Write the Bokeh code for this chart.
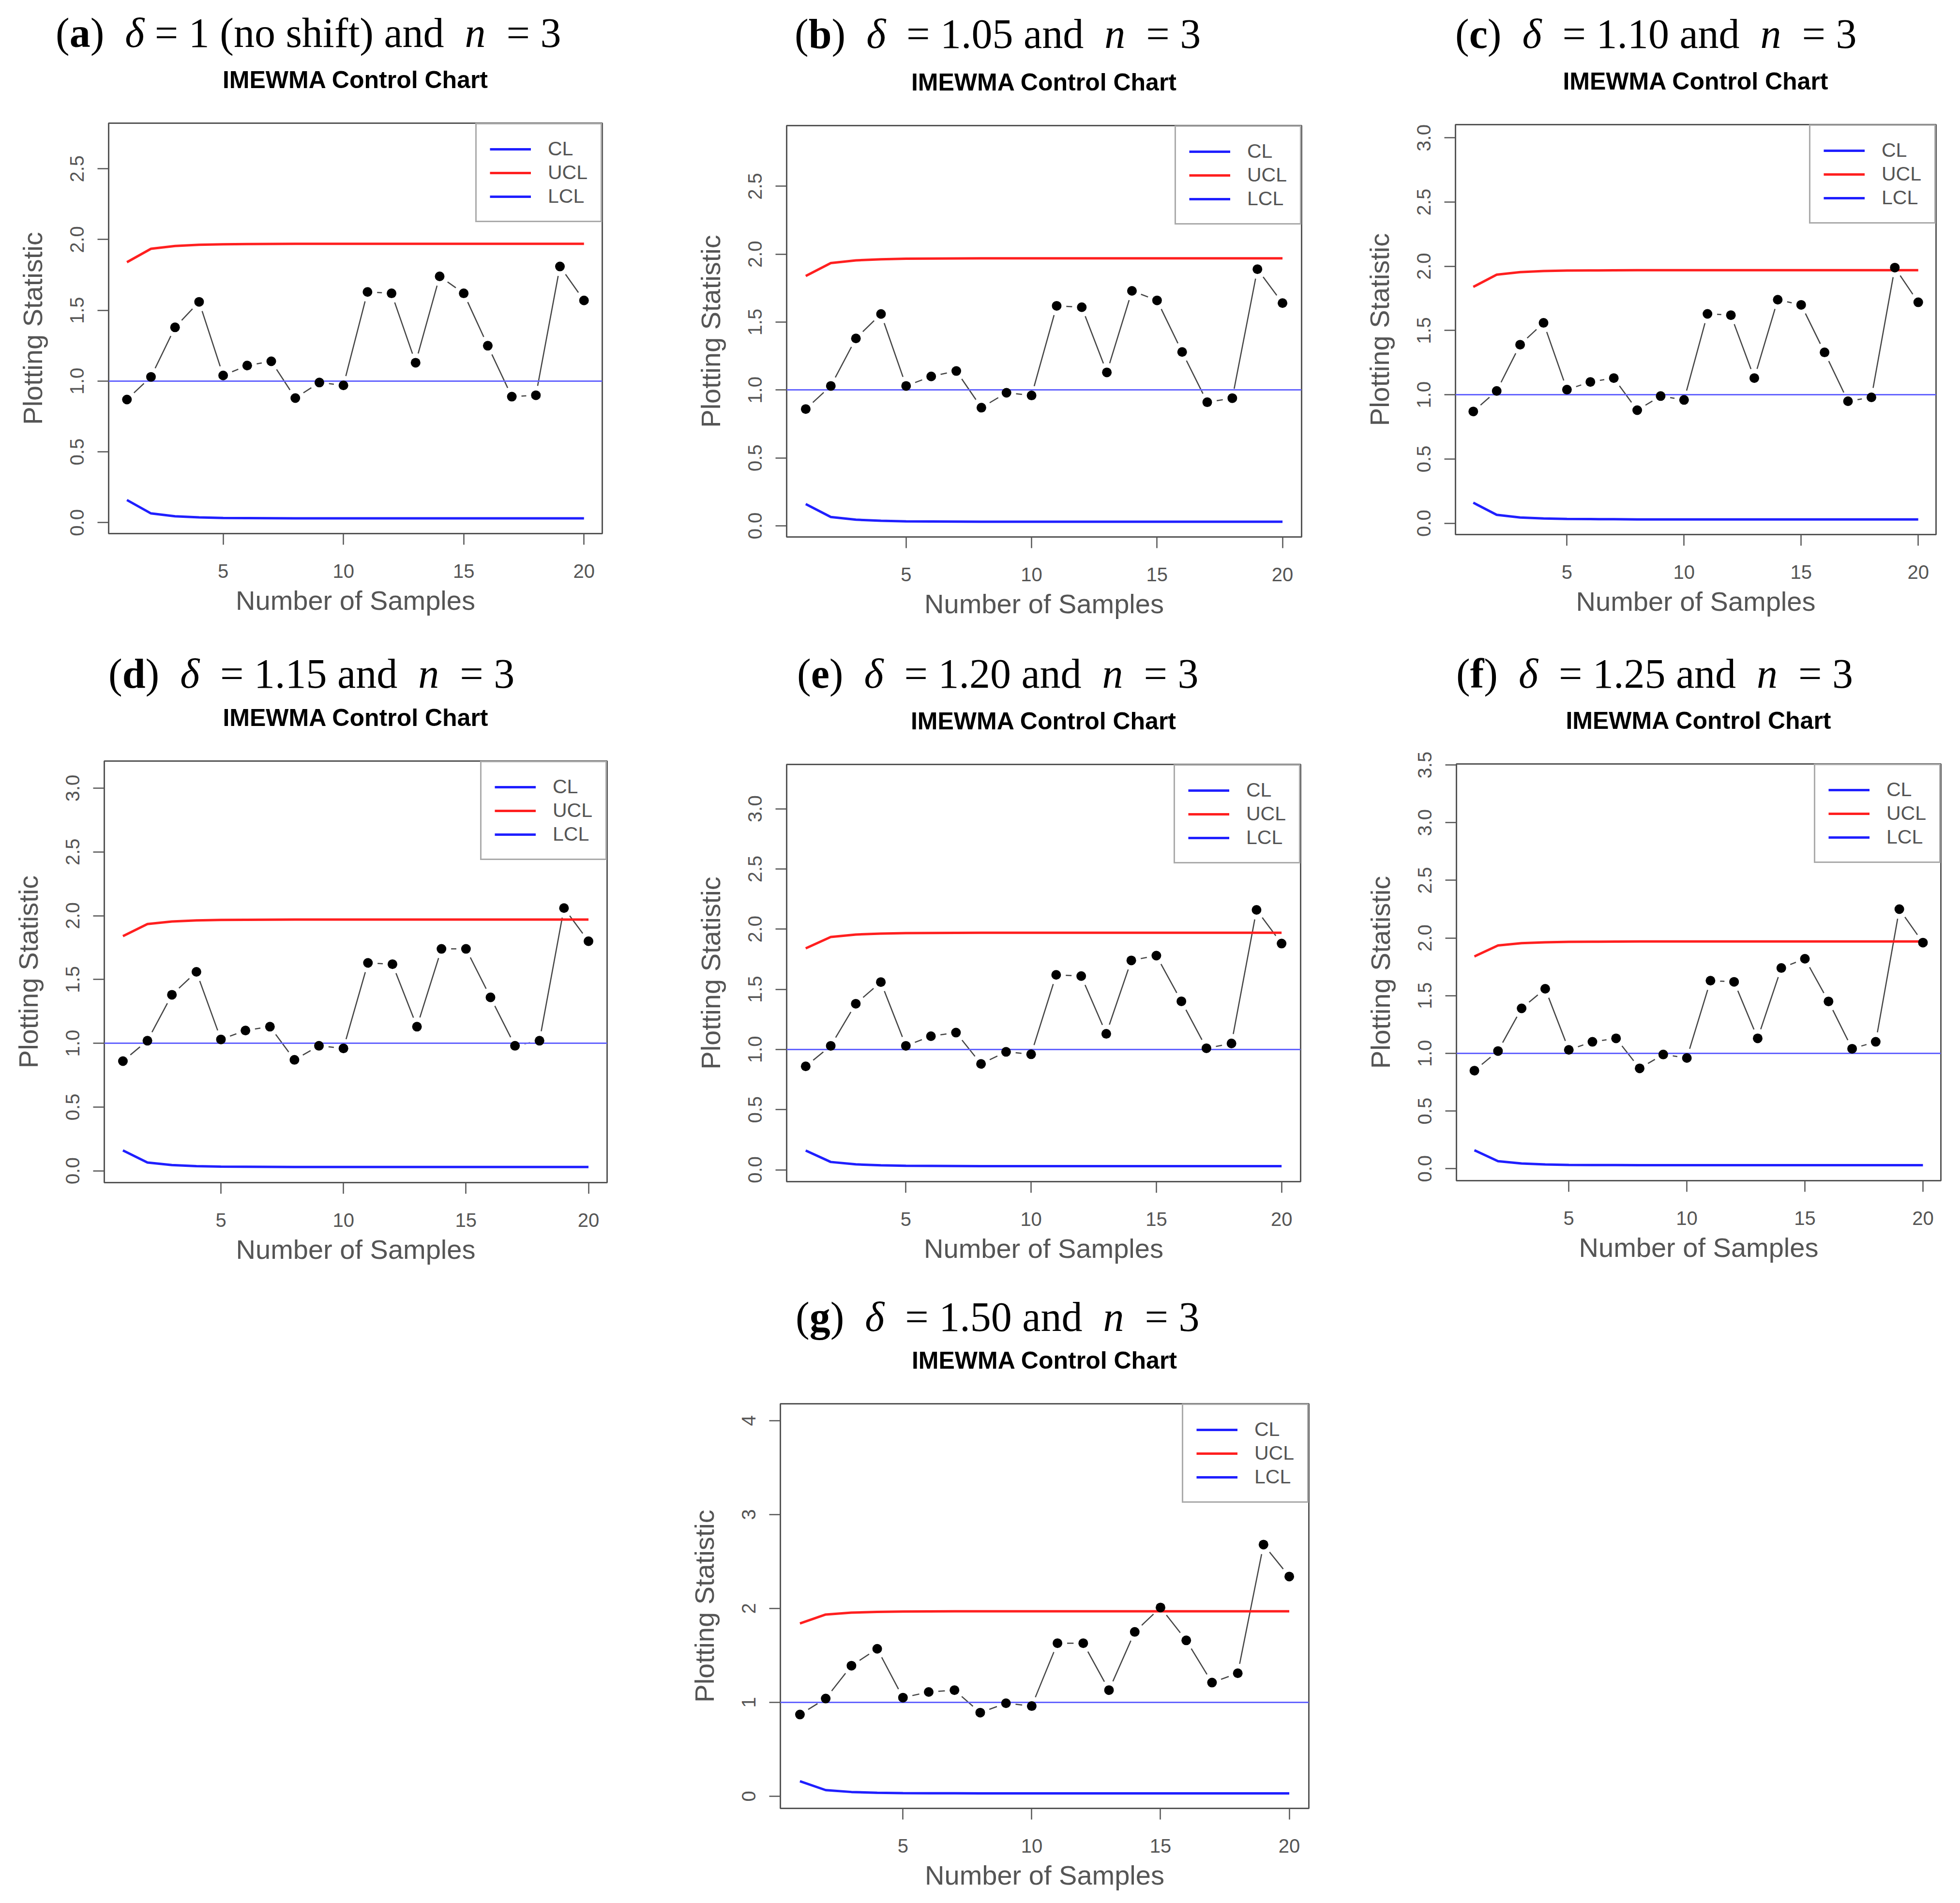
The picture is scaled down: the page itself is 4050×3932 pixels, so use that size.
import math
from bokeh.plotting import figure
from bokeh.layouts import column, row
from bokeh.models import (ColumnDataSource, Div, Spacer, FixedTicker, Range1d,
                          Legend, LegendItem)
from bokeh.embed import file_html
from bokeh.resources import INLINE

# ---- data ----
samples = list(range(1, 21))
center_line = 1.0
ucl = [1.84, 1.935, 1.955, 1.963, 1.967, 1.968, 1.969, 1.97, 1.97, 1.97,
       1.97, 1.97, 1.97, 1.97, 1.97, 1.97, 1.97, 1.97, 1.97, 1.97]
lcl = [0.16, 0.065, 0.045, 0.037, 0.033, 0.032, 0.031, 0.03, 0.03, 0.03,
       0.03, 0.03, 0.03, 0.03, 0.03, 0.03, 0.03, 0.03, 0.03, 0.03]

stat_a = [0.87, 1.03, 1.38, 1.56, 1.04, 1.11, 1.14, 0.88, 0.99, 0.97,
          1.63, 1.62, 1.13, 1.74, 1.62, 1.25, 0.89, 0.90, 1.81, 1.57]
stat_b = [0.86, 1.03, 1.38, 1.56, 1.03, 1.10, 1.14, 0.87, 0.98, 0.96,
          1.62, 1.61, 1.13, 1.73, 1.66, 1.28, 0.91, 0.94, 1.89, 1.64]
stat_c = [0.87, 1.03, 1.39, 1.56, 1.04, 1.10, 1.13, 0.88, 0.99, 0.96,
          1.63, 1.62, 1.13, 1.74, 1.70, 1.33, 0.95, 0.98, 1.99, 1.72]
stat_d = [0.86, 1.02, 1.38, 1.56, 1.03, 1.10, 1.13, 0.87, 0.98, 0.96,
          1.63, 1.62, 1.13, 1.74, 1.74, 1.36, 0.98, 1.02, 2.06, 1.80]
stat_e = [0.86, 1.03, 1.38, 1.56, 1.03, 1.11, 1.14, 0.88, 0.98, 0.96,
          1.62, 1.61, 1.13, 1.74, 1.78, 1.40, 1.01, 1.05, 2.16, 1.88]
stat_f = [0.85, 1.02, 1.39, 1.56, 1.03, 1.10, 1.13, 0.87, 0.99, 0.96,
          1.63, 1.62, 1.13, 1.74, 1.82, 1.45, 1.04, 1.10, 2.25, 1.96]
stat_g = [0.87, 1.04, 1.39, 1.57, 1.05, 1.11, 1.13, 0.89, 0.99, 0.96,
          1.63, 1.63, 1.13, 1.75, 2.01, 1.66, 1.21, 1.31, 2.68, 2.34]

panel_letters = ["a", "b", "c", "d", "e", "f", "g"]
delta_labels = ["1 (no shift)", "1.05", "1.10", "1.15", "1.20", "1.25", "1.50"]
n_size = "3"
chart_title = "IMEWMA Control Chart"

xticks = [5, 10, 15, 20]
yticks_25 = [0, 0.5, 1.0, 1.5, 2.0, 2.5]
ylabels_25 = ["0.0", "0.5", "1.0", "1.5", "2.0", "2.5"]
yticks_30 = [0, 0.5, 1.0, 1.5, 2.0, 2.5, 3.0]
ylabels_30 = ["0.0", "0.5", "1.0", "1.5", "2.0", "2.5", "3.0"]
yticks_35 = [0, 0.5, 1.0, 1.5, 2.0, 2.5, 3.0, 3.5]
ylabels_35 = ["0.0", "0.5", "1.0", "1.5", "2.0", "2.5", "3.0", "3.5"]
yticks_4 = [0, 1, 2, 3, 4]
ylabels_4 = ["0", "1", "2", "3", "4"]

GRAY = "#555555"
CAP_SIZE = 86       # caption font size, px
TITLE_SIZE = 50     # chart title font size, px
TITLE_GAP = 89      # chart title centre above the frame, px


def caption_html(letter, delta):
    gap = "&nbsp;" if delta.startswith("1 (") else "&nbsp;&nbsp;"
    return ("(<b>%s</b>)&nbsp;&nbsp;<i>&delta;</i>%s=&nbsp;%s and&nbsp;&nbsp;"
            "<i>n</i>&nbsp;&nbsp;=&nbsp;%s" % (letter, gap, delta, n_size))


def make_panel(letter, delta, stat, yticks, ylabels, cell_w, cell_h, div_h,
               cap_x, cap_y, mb_l, mb_r, mb_t, mb_b):
    frame_w = cell_w - mb_l - mb_r
    title_c = div_h + mb_t - TITLE_GAP
    title_top = title_c - TITLE_SIZE // 2 - (cap_y + CAP_SIZE)
    html = ('<div style="padding-left:%dpx; padding-top:%dpx; white-space:nowrap; '
            'font-family:\'Liberation Serif\'; font-size:%dpx; line-height:%dpx; color:black;">'
            '%s</div>'
            '<div style="margin-left:%dpx; margin-top:%dpx; width:%dpx; text-align:center; '
            'white-space:nowrap; font-family:\'Liberation Sans\'; font-weight:bold; '
            'font-size:%dpx; line-height:%dpx; color:black;">%s</div>'
            % (cap_x, cap_y, CAP_SIZE, CAP_SIZE, caption_html(letter, delta),
               mb_l, title_top, frame_w, TITLE_SIZE, TITLE_SIZE, chart_title))
    cap = Div(text=html, width=cell_w, height=div_h, margin=0)

    lo = min(lcl)
    hi = 1.5 * max(stat)
    ypad = 0.04 * (hi - lo)
    xpad = 0.04 * (samples[-1] - samples[0])

    p = figure(width=cell_w, height=cell_h - div_h,
               x_range=Range1d(samples[0] - xpad, samples[-1] + xpad),
               y_range=Range1d(lo - ypad, hi + ypad),
               min_border_left=mb_l, min_border_right=mb_r,
               min_border_top=mb_t, min_border_bottom=mb_b,
               output_backend="svg", toolbar_location=None, margin=0)

    p.xgrid.visible = False
    p.ygrid.visible = False
    p.outline_line_color = GRAY
    p.outline_line_width = 3
    p.background_fill_color = "white"
    p.border_fill_color = "white"

    p.xaxis.ticker = FixedTicker(ticks=xticks)
    p.yaxis.ticker = FixedTicker(ticks=yticks)
    p.yaxis.major_label_overrides = dict(zip(yticks, ylabels))
    p.yaxis.major_label_orientation = "vertical"
    p.xaxis.axis_label = "Number of Samples"
    p.yaxis.axis_label = "Plotting Statistic"
    for ax in (p.xaxis[0], p.yaxis[0]):
        ax.axis_line_color = None
        ax.major_tick_line_color = GRAY
        ax.major_tick_line_width = 2.5
        ax.major_tick_out = 23
        ax.major_tick_in = 0
        ax.minor_tick_line_color = None
        ax.major_label_text_font = "Liberation Sans"
        ax.major_label_text_font_size = "40px"
        ax.major_label_text_color = GRAY
        ax.axis_label_text_font = "Liberation Sans"
        ax.axis_label_text_font_size = "56px"
        ax.axis_label_text_font_style = "normal"
        ax.axis_label_text_color = GRAY
    p.xaxis.major_label_standoff = 40
    p.yaxis.major_label_standoff = 28
    p.xaxis.axis_label_standoff = 12
    p.yaxis.axis_label_standoff = 44

    src = ColumnDataSource(dict(x=samples, y=stat, ucl=ucl, lcl=lcl))
    # type="b" style: joining line broken around each point
    p.line("x", "y", source=src, line_color="#444444", line_width=2.5)
    p.scatter("x", "y", source=src, size=40, fill_color="white", line_color=None)
    p.hspan(y=[center_line], line_color="#6464ff", line_width=3)
    r_ucl = p.line("x", "ucl", source=src, line_color="#ff1f1f", line_width=5)
    r_lcl = p.line("x", "lcl", source=src, line_color="#1f1fff", line_width=5)
    p.scatter("x", "y", source=src, size=20, fill_color="black", line_color=None)

    legend = Legend(items=[LegendItem(label="CL", renderers=[r_lcl]),
                           LegendItem(label="UCL", renderers=[r_ucl]),
                           LegendItem(label="LCL", renderers=[r_lcl])],
                    location="top_right")
    legend.margin = 0
    legend.padding = 27
    legend.spacing = 2
    legend.glyph_width = 85
    legend.glyph_height = 40
    legend.label_height = 40
    legend.label_standoff = 35
    legend.label_text_font = "Liberation Sans"
    legend.label_text_font_size = "41px"
    legend.label_text_color = GRAY
    legend.border_line_color = GRAY
    legend.border_line_width = 3
    legend.background_fill_color = "white"
    legend.background_fill_alpha = 1.0
    p.add_layout(legend)

    return column(cap, p, spacing=0, margin=0)


pa = make_panel(panel_letters[0], delta_labels[0], stat_a, yticks_25, ylabels_25,
                1350, 1300, 190, 115, 25, 224, 106, 64, 198)
pb = make_panel(panel_letters[1], delta_labels[1], stat_b, yticks_25, ylabels_25,
                1382, 1300, 190, 292, 27, 275, 43, 69, 191)
pc = make_panel(panel_letters[2], delta_labels[2], stat_c, yticks_30, ylabels_30,
                1302, 1300, 190, 275, 27, 275, 34, 67, 196)
pd_ = make_panel(panel_letters[3], delta_labels[3], stat_d, yticks_30, ylabels_30,
                 1350, 1320, 210, 224, 49, 215, 96, 62, 177)
pe = make_panel(panel_letters[4], delta_labels[4], stat_e, yticks_30, ylabels_30,
                1382, 1320, 210, 297, 49, 275, 45, 69, 179)
pf = make_panel(panel_letters[5], delta_labels[5], stat_f, yticks_35, ylabels_35,
                1302, 1320, 210, 277, 49, 277, 24, 68, 181)
pg = make_panel(panel_letters[6], delta_labels[6], stat_g, yticks_4, ylabels_4,
                1382, 1296, 210, 294, 58, 262, 28, 70, 180)

layout = column(
    row(pa, pb, pc, spacing=0),
    row(pd_, pe, pf, spacing=0),
    row(Spacer(width=1350, height=1296, margin=0), pg, spacing=0),
    spacing=0,
)

open("out.html", "w").write(file_html(layout, INLINE))
